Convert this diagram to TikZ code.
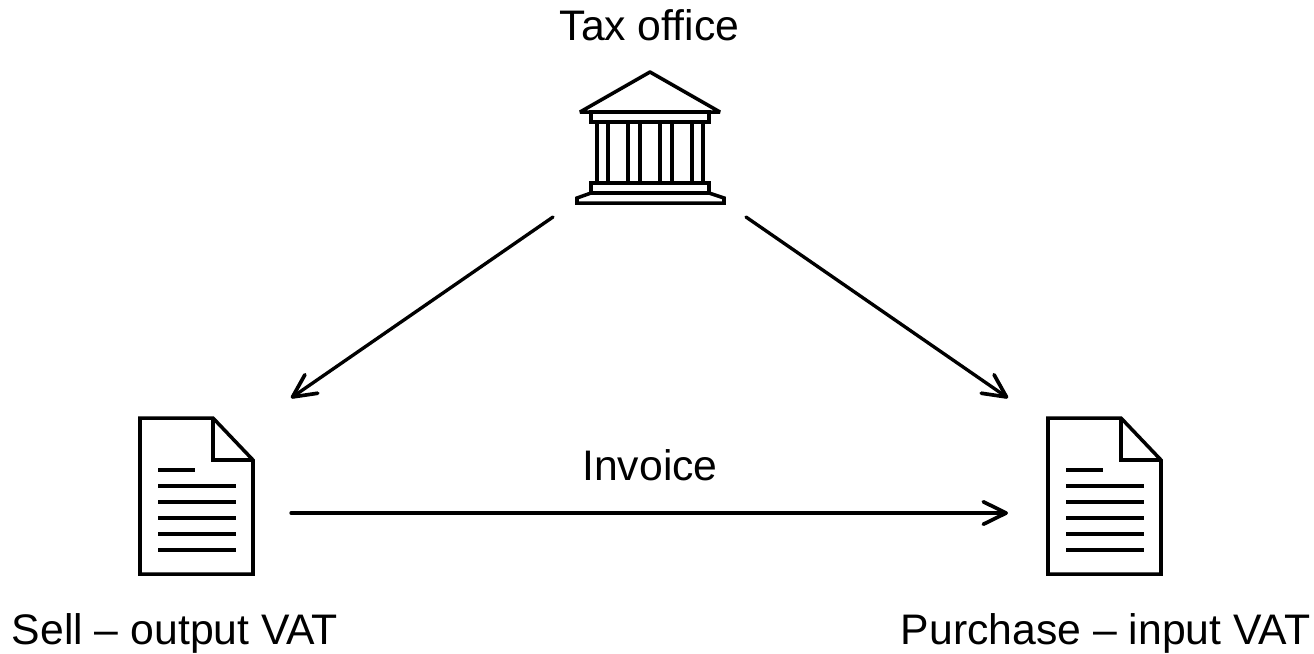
\documentclass[tikz,border=0pt]{standalone}
\usepackage{xcolor}
\usepackage{fontspec}
\setmainfont{Liberation Sans}
\usetikzlibrary{arrows.meta}

\tikzset{
	icon/.style={line width=1pt, line join=miter},
	textline/.style={line width=1.15pt},
	flow/.style={line width=0.95pt, line cap=round, -{Straight Barb[length=6.5pt, width=6.4pt, round, line width=1.05pt]}},
	label/.style={font=\fontsize{12.15}{15}\selectfont, inner sep=0pt, anchor=base}
}

\newcommand{\docicon}[1]{
	\begin{scope}[xshift=#1*0.01cm]
		\draw[icon] (140,418) -- (213,418) -- (253,460) -- (253,574) -- (140,574) -- cycle;
		\draw[icon] (213,418) -- (213,460) -- (253,460);
		\draw[textline] (158,470) -- (195,470);
		\foreach \y in {486,502,518,534,550} {
			\draw[textline] (158,\y) -- (236,\y);
		}
	\end{scope}
}

\begin{document}
\begin{tikzpicture}[x=0.01cm, y=-0.01cm]
	\useasboundingbox (0,0) rectangle (1314,653);

	% Tax office building
	\draw[icon, line join=bevel] (650,72) -- (720,112) -- (580,112) -- cycle;
	\draw[icon] (591,112) rectangle (709,122);
	\foreach \x in {597,608,628,640,660,672,692,703} {
		\draw[icon] (\x,122) -- (\x,183);
	}
	\draw[icon] (591,183) rectangle (709,193);
	\draw[icon] (591,193) -- (577,198) -- (577,203) -- (724,203) -- (724,198) -- (709,193);

	% Invoice documents
	\docicon{0}
	\docicon{908}

	% Labels
	\node[label] (office) at (649.5,40) {Tax office};
	\node[label] (invoice) at (650,480) {Invoice};
	\node[label] (sell) at (175,644) {Sell – output VAT};
	\node[label] (purchase) at (1105.5,644) {Purchase – input VAT};

	% Arrow ends
	\coordinate (officeL) at (553,217);
	\coordinate (officeR) at (746,217);
	\coordinate (sellT) at (291,398);
	\coordinate (purchaseT) at (1008,398);
	\coordinate (sellM) at (291,513);
	\coordinate (purchaseM) at (1008,513);

	\draw[flow] (officeL) -- (sellT);
	\draw[flow] (officeR) -- (purchaseT);
	\draw[flow] (sellM) -- (purchaseM);
\end{tikzpicture}
\end{document}
